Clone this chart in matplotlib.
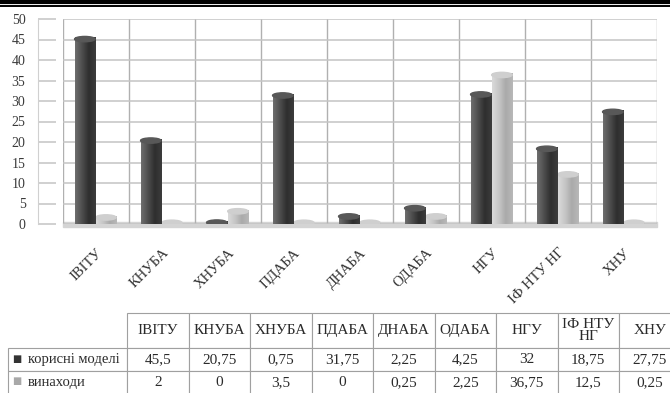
import numpy as np
import matplotlib
matplotlib.use("Agg")
import matplotlib.pyplot as plt
from matplotlib.lines import Line2D
from matplotlib.patches import Ellipse
from matplotlib.colors import LinearSegmentedColormap

plt.rcParams['font.family'] = ['Liberation Serif', 'DejaVu Sans']

categories = ['ІВІТУ', 'КНУБА', 'ХНУБА', 'ПДАБА', 'ДНАБА', 'ОДАБА', 'НГУ', 'ІФ НТУ НГ', 'ХНУ']
table_headers = ['ІВІТУ', 'КНУБА', 'ХНУБА', 'ПДАБА', 'ДНАБА', 'ОДАБА', 'НГУ', 'ІФ НТУ\nНГ', 'ХНУ']
utility_models = [45.5, 20.75, 0.75, 31.75, 2.25, 4.25, 32, 18.75, 27.75]
inventions = [2, 0, 3.5, 0, 0.25, 2.25, 36.75, 12.5, 0.25]
series_names = ['корисні моделі', 'винаходи']

dark_cmap = LinearSegmentedColormap.from_list('dk', ['#6e6e6e', '#4e4e4e', '#2e2e2e', '#3c3c3c'])
light_cmap = LinearSegmentedColormap.from_list('lt', ['#dadada', '#c6c6c6', '#aaaaaa', '#b8b8b8'])

fig = plt.figure(figsize=(6.7, 3.93), dpi=100)
ax = fig.add_axes([63/670, 1-224/393, (657-63)/670, (224-19)/393])

x = np.arange(len(categories))
w = 0.31
b1 = ax.bar(x - 0.17, utility_models, w, color='#444444', zorder=3)
b2 = ax.bar(x + 0.15, inventions, w, color='#bbbbbb', zorder=2)

# cylinder look: gradient fill clipped to each bar plus a top cap
grad = np.linspace(0, 1, 64).reshape(1, -1)
for bars, cm, cap, z in ((b1, dark_cmap, '#585858', 3.1), (b2, light_cmap, '#cfcfcf', 2.1)):
    for r in bars:
        h = max(r.get_height(), 0.35)
        im = ax.imshow(grad, cmap=cm, aspect='auto', zorder=z,
                       extent=[r.get_x(), r.get_x() + r.get_width(), 0, h])
        im.set_clip_path(r)
        r.set_height(h)
        ax.add_patch(Ellipse((r.get_x() + r.get_width() / 2, max(h - 0.4, 0.3)),
                             r.get_width(), 1.3, color=cap, zorder=z + 0.05))

ax.set_xlim(-0.5, len(categories) - 0.5)
ax.set_ylim(0, 50)
ax.set_yticks(range(0, 51, 5))
ax.set_xticks(x)
ax.set_xticklabels(categories, rotation=45, ha='right', rotation_mode='anchor',
                   fontsize=10.5, color='#333333')
ax.set_xticks(np.arange(-0.5, len(categories)), minor=True)
ax.grid(True, axis='y', color='#c4c4c4', lw=1.1, zorder=0)
ax.grid(True, axis='x', which='minor', color='#b0b0b0', lw=1, zorder=0)
ax.tick_params(axis='x', which='both', length=0, pad=16)
ax.tick_params(axis='y', direction='in', length=13, color='#c4c4c4', width=1.1,
               labelsize=10, labelcolor='#3a3a3a', pad=9)
for s in ('top', 'right', 'bottom'):
    ax.spines[s].set_visible(False)
ax.spines['left'].set_position(('outward', 18))
ax.spines['left'].set_color('#d0d0d0')
ax.axhspan(-0.7, 0.4, color='#d4d4d4', zorder=1, clip_on=False)

# data table
tax = fig.add_axes([0, 0, 1, 1])
tax.axis('off')
fmt = lambda v: f"{v:g}".replace('.', ',')
cell_text = [[series_names[0]] + [fmt(v) for v in utility_models],
             [series_names[1]] + [fmt(v) for v in inventions]]
col_w = [119] + [61.5] * len(categories)
tbl = tax.table(cellText=cell_text, colLabels=[''] + table_headers, cellLoc='center',
                colWidths=col_w,
                bbox=[8/670, -1/393, (sum(col_w))/670, 81/393])
tbl.auto_set_font_size(False)
for (r, c), cell in tbl.get_celld().items():
    cell.set_edgecolor('#a0a0a0')
    cell.set_linewidth(0.8)
    t = cell.get_text()
    t.set_fontsize(11)
    t.set_color('#2a2a2a')
    t.set_linespacing(0.95)
    if r == 0:
        cell.set_height(cell.get_height() * 1.52)
    if c == 0:
        t.set_ha('left')
        t.set_fontsize(10.5)
        cell.PAD = 0.17
tbl[(0, 0)].visible_edges = 'open'

# legend keys in table row labels
fig.text(12/670, 1-359/393, '■', color='#333333', fontsize=7, va='center',
         family=['DejaVu Sans'])
fig.text(12/670, 1-381/393, '■', color='#a8a8a8', fontsize=7, va='center',
         family=['DejaVu Sans'])

# header rules
fig.add_artist(Line2D([0, 1], [1-2/393, 1-2/393], transform=fig.transFigure, color='black', lw=3))
fig.add_artist(Line2D([0, 1], [1-6.3/393, 1-6.3/393], transform=fig.transFigure, color='black', lw=1.4))

fig.savefig('out.png', dpi=100)
